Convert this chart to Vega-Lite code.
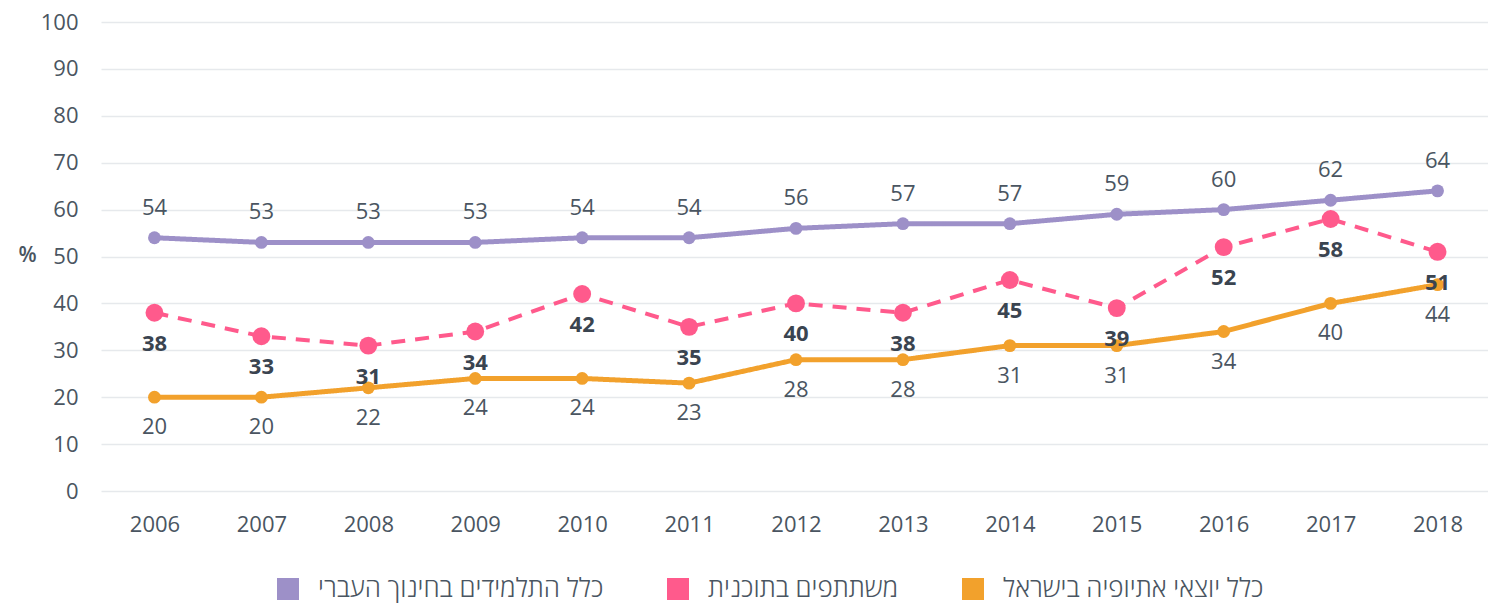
{
  "$schema": "https://vega.github.io/schema/vega-lite/v6.json",
  "autosize": "none",
  "width": 1390,
  "height": 469,
  "padding": {"left": 101, "top": 22, "right": 0, "bottom": 113},
  "background": "white",
  "config": {
    "view": {"stroke": null},
    "font": "Open Sans",
    "axis": {"labelFont": "Open Sans", "labelFontSize": 22, "labelColor": "#4a5561", "gridColor": "#e6e9ec", "gridWidth": 1.5, "domain": false, "ticks": false},
    "legend": {"title": null, "orient": "none", "legendX": 174, "legendY": 554, "direction": "horizontal",
      "symbolType": "square", "symbolSize": 484, "symbolStrokeWidth": 0, "symbolOpacity": 1, "symbolDash": [],
      "labelFontSize": 26, "labelFont": "Open Sans", "labelFontWeight": 300, "labelColor": "#4a5561",
      "labelOffset": 17, "columnPadding": 61, "labelLimit": 600}
  },
  "data": {"values": [
    {"year": "2006", "series": "כלל התלמידים בחינוך העברי", "value": 54},
    {"year": "2007", "series": "כלל התלמידים בחינוך העברי", "value": 53},
    {"year": "2008", "series": "כלל התלמידים בחינוך העברי", "value": 53},
    {"year": "2009", "series": "כלל התלמידים בחינוך העברי", "value": 53},
    {"year": "2010", "series": "כלל התלמידים בחינוך העברי", "value": 54},
    {"year": "2011", "series": "כלל התלמידים בחינוך העברי", "value": 54},
    {"year": "2012", "series": "כלל התלמידים בחינוך העברי", "value": 56},
    {"year": "2013", "series": "כלל התלמידים בחינוך העברי", "value": 57},
    {"year": "2014", "series": "כלל התלמידים בחינוך העברי", "value": 57},
    {"year": "2015", "series": "כלל התלמידים בחינוך העברי", "value": 59},
    {"year": "2016", "series": "כלל התלמידים בחינוך העברי", "value": 60},
    {"year": "2017", "series": "כלל התלמידים בחינוך העברי", "value": 62},
    {"year": "2018", "series": "כלל התלמידים בחינוך העברי", "value": 64},
    {"year": "2006", "series": "משתתפים בתוכנית", "value": 38},
    {"year": "2007", "series": "משתתפים בתוכנית", "value": 33},
    {"year": "2008", "series": "משתתפים בתוכנית", "value": 31},
    {"year": "2009", "series": "משתתפים בתוכנית", "value": 34},
    {"year": "2010", "series": "משתתפים בתוכנית", "value": 42},
    {"year": "2011", "series": "משתתפים בתוכנית", "value": 35},
    {"year": "2012", "series": "משתתפים בתוכנית", "value": 40},
    {"year": "2013", "series": "משתתפים בתוכנית", "value": 38},
    {"year": "2014", "series": "משתתפים בתוכנית", "value": 45},
    {"year": "2015", "series": "משתתפים בתוכנית", "value": 39},
    {"year": "2016", "series": "משתתפים בתוכנית", "value": 52},
    {"year": "2017", "series": "משתתפים בתוכנית", "value": 58},
    {"year": "2018", "series": "משתתפים בתוכנית", "value": 51},
    {"year": "2006", "series": "כלל יוצאי אתיופיה בישראל", "value": 20},
    {"year": "2007", "series": "כלל יוצאי אתיופיה בישראל", "value": 20},
    {"year": "2008", "series": "כלל יוצאי אתיופיה בישראל", "value": 22},
    {"year": "2009", "series": "כלל יוצאי אתיופיה בישראל", "value": 24},
    {"year": "2010", "series": "כלל יוצאי אתיופיה בישראל", "value": 24},
    {"year": "2011", "series": "כלל יוצאי אתיופיה בישראל", "value": 23},
    {"year": "2012", "series": "כלל יוצאי אתיופיה בישראל", "value": 28},
    {"year": "2013", "series": "כלל יוצאי אתיופיה בישראל", "value": 28},
    {"year": "2014", "series": "כלל יוצאי אתיופיה בישראל", "value": 31},
    {"year": "2015", "series": "כלל יוצאי אתיופיה בישראל", "value": 31},
    {"year": "2016", "series": "כלל יוצאי אתיופיה בישראל", "value": 34},
    {"year": "2017", "series": "כלל יוצאי אתיופיה בישראל", "value": 40},
    {"year": "2018", "series": "כלל יוצאי אתיופיה בישראל", "value": 44}
  ]},
  "encoding": {
    "x": {"field": "year", "type": "ordinal", "scale": {"type": "point", "padding": 0.5},
      "axis": {"title": null, "labelAngle": 0, "labelPadding": 33, "grid": false, "labelBaseline": "middle"}},
    "y": {"field": "value", "type": "quantitative", "scale": {"domain": [0, 100], "nice": false},
      "axis": {"values": [0,10,20,30,40,50,60,70,80,90,100], "title": "%", "titleAngle": 0, "titleX": -83, "titleY": 233, "titleAlign": "left", "titleBaseline": "middle", "titleFontSize": 21, "titleFontWeight": 600, "titleColor": "#4a5561", "titleFont": "Open Sans", "labelPadding": 23}},
    "color": {"field": "series", "type": "nominal", "sort": null,
      "scale": {"domain": ["כלל התלמידים בחינוך העברי", "משתתפים בתוכנית", "כלל יוצאי אתיופיה בישראל"], "range": ["#9d90c8", "#ff5a8c", "#f2a12c"]}}
  },
  "layer": [
    {
      "mark": {"type": "line", "strokeCap": "butt"},
      "encoding": {
        "strokeDash": {"condition": {"test": "datum.series === 'משתתפים בתוכנית'", "value": [14, 10]}, "value": [1, 0]},
        "strokeWidth": {"condition": {"test": "datum.series === 'משתתפים בתוכנית'", "value": 4}, "value": 5}
      }
    },
    {
      "mark": {"type": "point", "filled": true, "opacity": 1, "shape": "circle"},
      "encoding": {
        "size": {"condition": {"test": "datum.series === 'משתתפים בתוכנית'", "value": 320}, "value": 165}
      }
    },
    {
      "transform": [{"filter": "datum.series === 'כלל התלמידים בחינוך העברי'"}],
      "mark": {"type": "text", "dy": -30, "fontSize": 22, "font": "Open Sans"},
      "encoding": {"text": {"field": "value", "type": "quantitative"}, "color": {"value": "#4a5561"}}
    },
    {
      "transform": [{"filter": "datum.series === 'משתתפים בתוכנית'"}],
      "mark": {"type": "text", "dy": 31, "fontSize": 22, "fontWeight": "bold", "font": "Open Sans"},
      "encoding": {"text": {"field": "value", "type": "quantitative"}, "color": {"value": "#3a4450"}}
    },
    {
      "transform": [{"filter": "datum.series === 'כלל יוצאי אתיופיה בישראל'"}],
      "mark": {"type": "text", "dy": 30, "fontSize": 22, "font": "Open Sans"},
      "encoding": {"text": {"field": "value", "type": "quantitative"}, "color": {"value": "#4a5561"}}
    }
  ]
}
